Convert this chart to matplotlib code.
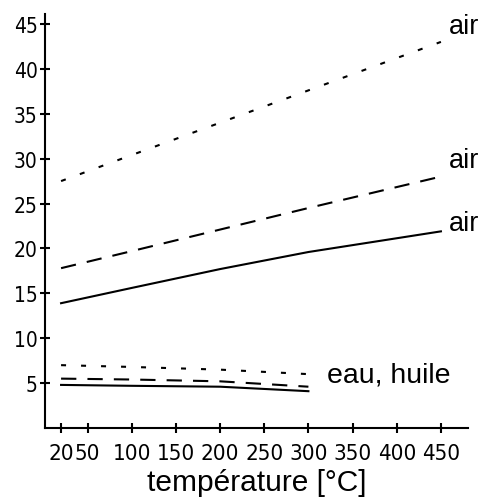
import matplotlib
matplotlib.use("Agg")
import matplotlib.pyplot as plt
from matplotlib import font_manager

plt.rcParams['lines.scale_dashes'] = False

# temperature points (°C)
t_air = [20, 100, 200, 300, 450]
t_liq = [20, 100, 200, 300]

# air curves
air_dotted = [27.5, 30.4, 34.0, 37.6, 43.0]
air_dashed = [17.8, 19.7, 22.1, 24.5, 28.0]
air_solid = [13.9, 15.6, 17.7, 19.6, 21.9]

# eau, huile curves
liq_dotted = [7.0, 6.8, 6.5, 6.0]
liq_dashed = [5.5, 5.4, 5.2, 4.6]
liq_solid = [4.8, 4.7, 4.6, 4.1]

xticks = [20, 50, 100, 150, 200, 250, 300, 350, 400, 450]
yticks = [5, 10, 15, 20, 25, 30, 35, 40, 45]

# narrow font for the tick numbers if there is one
names = set(f.name for f in font_manager.fontManager.ttflist)
if 'Liberation Sans Narrow' in names:
    tick_font = ['Liberation Sans Narrow', 'DejaVu Sans']
    xsize, ysize = 20, 18
elif 'DejaVu Sans Condensed' in names:
    tick_font = ['DejaVu Sans Condensed', 'DejaVu Sans']
    xsize, ysize = 18, 16.5
else:
    tick_font = ['DejaVu Sans']
    xsize, ysize = 16, 15
text_font = ['Liberation Sans', 'DejaVu Sans']

fig = plt.figure(figsize=(4.9, 5.02), dpi=100)
ax = fig.add_axes([0.092, 0.1454, 0.863, 0.8246])

dotted = (0, (3.6, 10.8))
dashed = (0, (11, 8))

ax.plot(t_air, air_dotted, color='black', lw=1.5, linestyle=dotted)
ax.plot(t_air, air_dashed, color='black', lw=1.5, linestyle=dashed)
ax.plot(t_air, air_solid, color='black', lw=1.5)
ax.plot(t_liq, liq_dotted, color='black', lw=1.5, linestyle=dotted)
ax.plot(t_liq, liq_dashed, color='black', lw=1.5, linestyle=dashed)
ax.plot(t_liq, liq_solid, color='black', lw=1.5)

ax.text(459, 44.8, 'air', fontsize=19.5, family=text_font, va='center', ha='left')
ax.text(459, 29.8, 'air', fontsize=19.5, family=text_font, va='center', ha='left')
ax.text(459, 22.8, 'air', fontsize=19.5, family=text_font, va='center', ha='left')
ax.text(321, 6.0, 'eau, huile', fontsize=20.5, family=text_font, va='center', ha='left')

ax.set_xlim(1.9, 480.6)
ax.set_ylim(0, 46.1)
ax.set_xticks(xticks)
ax.set_yticks(yticks)
ax.set_xticklabels([str(v) for v in xticks], family=tick_font, fontsize=xsize,
                   fontstretch='condensed')
ax.set_yticklabels([str(v) for v in yticks], family=tick_font, fontsize=ysize,
                   fontstretch='condensed')
ax.tick_params(direction='inout', length=7, width=1.5, colors='black')
ax.tick_params(axis='x', pad=7)
ax.tick_params(axis='y', pad=2)

for s in ['top', 'right']:
    ax.spines[s].set_visible(False)
for s in ['left', 'bottom']:
    ax.spines[s].set_linewidth(1.5)

ax.set_xlabel('température [°C]', fontsize=21.5, family=text_font, labelpad=4)

fig.savefig('out.png', dpi=100)
